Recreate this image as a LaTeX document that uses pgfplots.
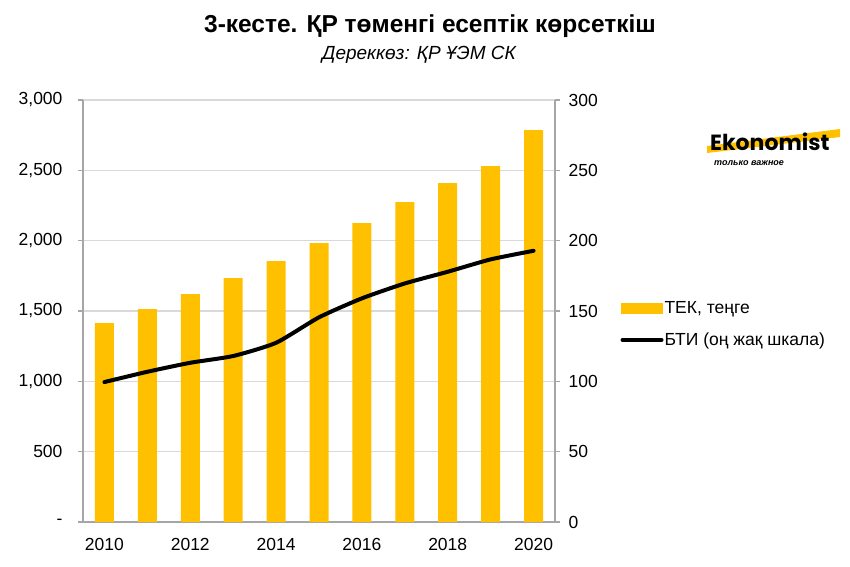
\documentclass[border=0pt]{standalone}
\usepackage{fontspec}
\setmainfont{Liberation Sans}
\newfontfamily\logofont{Poppins}
\usepackage{pgfplots}
\pgfplotsset{compat=1.18}
\definecolor{barcolor}{HTML}{FFC000}
\definecolor{gridgray}{HTML}{D9D9D9}
\definecolor{axisgray}{HTML}{A6A6A6}
\begin{document}
\begin{tikzpicture}[x=1pt,y=1pt]
\path[use as bounding box] (0,0) rectangle (850,566);
\begin{axis}[
  scale only axis, width=472pt, height=422pt, at={(83pt,44pt)}, anchor=south west,
  xmin=2009.5, xmax=2020.5, ymin=0, ymax=3000,
  axis x line*=bottom, axis y line*=left,
  axis line style={draw=axisgray, line width=1.3pt},
  ymajorgrids, grid style={draw=gridgray, line width=1.3pt},
  xtick={2010,2012,...,2020},
  xticklabel style={/pgf/number format/1000 sep=, yshift=-8pt},
  x tick style={draw=none},
  ytick={0,500,...,3000},
  yticklabels={-,500,{1,000},{1,500},{2,000},{2,500},{3,000}},
  y tick style={draw=axisgray, line width=1.3pt},
  tick align=outside, major tick length=5pt,
  yticklabel style={xshift=-12pt},
  tick label style={font=\fontsize{17.5}{20}\selectfont},
  /pgf/number format/assume math mode=true,
  clip=false,
]
\addplot[ybar, bar width=19pt, bar shift=0pt, fill=barcolor, draw=none] coordinates {
(2010,1414) (2011,1514) (2012,1620) (2013,1734) (2014,1855) (2015,1983)
(2016,2125) (2017,2274) (2018,2409) (2019,2530) (2020,2786)};
\end{axis}
\begin{axis}[
  scale only axis, width=472pt, height=422pt, at={(83pt,44pt)}, anchor=south west,
  xmin=2009.5, xmax=2020.5, ymin=0, ymax=300,
  axis x line=none, axis y line*=right,
  axis line style={draw=axisgray, line width=1.3pt},
  ytick={0,50,...,300},
  y tick style={draw=axisgray, line width=1.3pt},
  tick align=outside, major tick length=5pt,
  yticklabel style={xshift=5pt},
  tick label style={font=\fontsize{17.5}{20}\selectfont},
  /pgf/number format/assume math mode=true,
  clip=false,
  legend style={draw=none, fill=none, at={(1.132,0.531)}, anchor=north west,
    font=\fontsize{17.5}{20}\selectfont, row sep=16pt,
    nodes={inner sep=1pt}},
  legend cell align=left,
]
\addlegendimage{legend image code/.code={\fill[barcolor] (0pt,-5pt) rectangle (41pt,5pt);}}
\addlegendentry{ТЕК, теңге}
\addplot[black, line width=4pt, line cap=round, line join=round, smooth, tension=0.35,
  legend image code/.code={\draw[black, line width=4pt, line cap=round] (1pt,0pt) -- (40pt,0pt);}]
 coordinates {
(2010,99.5) (2011,106.8) (2012,113.2) (2013,118) (2014,127.4) (2015,145.5)
(2016,159) (2017,169.6) (2018,177.9) (2019,186.7) (2020,192.8)};
\addlegendentry{БТИ (оң жақ шкала)}
\end{axis}
\node[anchor=base, font=\bfseries\fontsize{24.5}{28}\selectfont] at (430,533) {3-кесте. ҚР төменгі есептік көрсеткіш};
\node[anchor=base, font=\itshape\fontsize{19}{22}\selectfont] at (419,506) {Дереккөз: ҚР ҰЭМ СК};
\fill[barcolor] (707,413) -- (840,429) -- (840,437) -- (707,420) -- cycle;
\node[anchor=base west, inner sep=0pt, font=\logofont\bfseries\fontsize{22}{24}\selectfont] at (710,415) {Ekonomist};
\node[anchor=base west, inner sep=0pt, font=\bfseries\itshape\fontsize{9}{9}\selectfont] at (714,401) {только важное};
\end{tikzpicture}
\end{document}
